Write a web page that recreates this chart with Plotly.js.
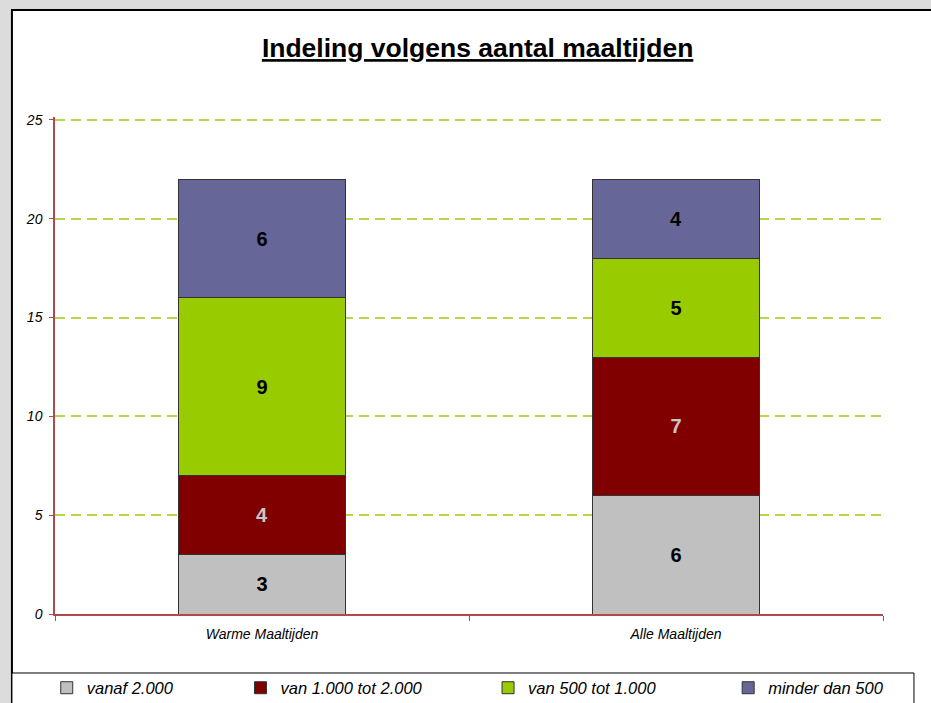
<!DOCTYPE html>
<html>
<head>
<meta charset="utf-8">
<script src="https://cdn.plot.ly/plotly-3.0.1.min.js"></script>
<style>
  body { margin: 0; padding: 0; }
  #plot { width: 931px; height: 703px; }
</style>
</head>
<body>
<div id="plot"></div>
<script>
var categories = ['Warme Maaltijden', 'Alle Maaltijden'];

var seriesNames = ['vanaf 2.000', 'van 1.000 tot 2.000', 'van 500 tot 1.000', 'minder dan 500'];
var vanaf2000 = [3, 6];
var van1000tot2000 = [4, 7];
var van500tot1000 = [9, 5];
var minderDan500 = [6, 4];

var seriesValues = [vanaf2000, van1000tot2000, van500tot1000, minderDan500];
var seriesColors = ['#c0c0c0', '#800000', '#99cc00', '#666699'];
var labelColors = ['#000000', '#c8c8c8', '#000000', '#000000'];
var legendNames = ['legend', 'legend2', 'legend3', 'legend4'];
// left edge of each legend entry, in paper units
var legendX = [-0.01, 0.224, 0.523, 0.813];

var font = '"Liberation Sans", Arial, sans-serif';

var data = [];
for (var i = 0; i < seriesNames.length; i++) {
  data.push({
    x: categories,
    y: seriesValues[i],
    name: seriesNames[i],
    type: 'bar',
    width: 0.403,
    legend: legendNames[i],
    marker: {color: seriesColors[i], line: {color: '#333333', width: 1}},
    text: seriesValues[i].map(String),
    textposition: 'inside',
    insidetextanchor: 'middle',
    textangle: 0,
    constraintext: 'none',
    textfont: {family: font, size: 20, color: labelColors[i], weight: 'bold'},
    hoverinfo: 'name+y'
  });
}

var axisRed = '#b04a4a';

var layout = {
  width: 931,
  height: 703,
  barmode: 'stack',
  paper_bgcolor: '#dcdcdc',
  plot_bgcolor: 'rgba(0,0,0,0)',
  margin: {l: 55, r: 48, t: 117, b: 89, autoexpand: false},
  font: {family: font, color: '#000000'},
  title: {
    text: '<u><b>Indeling volgens aantal maaltijden</b></u>',
    font: {family: font, size: 26.5, color: '#000000'},
    x: 0.513, xanchor: 'center',
    y: 0.932, yanchor: 'middle'
  },
  xaxis: {
    type: 'category',
    showline: true, linecolor: axisRed, linewidth: 1.5,
    ticks: 'outside', tickson: 'boundaries', ticklen: 5, tickcolor: axisRed,
    ticklabelstandoff: 6,
    tickfont: {family: font, size: 14, style: 'italic', color: '#000000'},
    showgrid: false, zeroline: false
  },
  yaxis: {
    range: [0, 25.15], dtick: 5,
    showline: true, linecolor: axisRed, linewidth: 1.5,
    ticks: 'outside', ticklen: 4, tickcolor: axisRed,
    ticklabelstandoff: 4,
    tickfont: {family: font, size: 14, style: 'italic', color: '#000000'},
    showgrid: true, gridcolor: '#b5d84a', gridwidth: 1.5, griddash: '10px,6px',
    zeroline: false
  },
  shapes: [
    {type: 'rect', xref: 'paper', yref: 'paper', layer: 'below',
     x0: -0.052, x1: 1.1, y0: -0.3, y1: 1.2153,
     fillcolor: '#ffffff', line: {color: '#000000', width: 2}},
    {type: 'rect', xref: 'paper', yref: 'paper', layer: 'below',
     x0: -0.052, x1: 1.0374, y0: -0.2, y1: -0.1187,
     fillcolor: '#ffffff', line: {color: '#000000', width: 1}}
  ],
  showlegend: true
};

for (var j = 0; j < legendNames.length; j++) {
  layout[legendNames[j]] = {
    x: legendX[j], xanchor: 'left',
    y: -0.1489, yanchor: 'middle',
    orientation: 'h',
    bgcolor: 'rgba(0,0,0,0)',
    font: {family: font, size: 16.5, style: 'italic', color: '#000000'},
    itemwidth: 30
  };
}

Plotly.newPlot('plot', data, layout, {displayModeBar: false});
</script>
</body>
</html>
